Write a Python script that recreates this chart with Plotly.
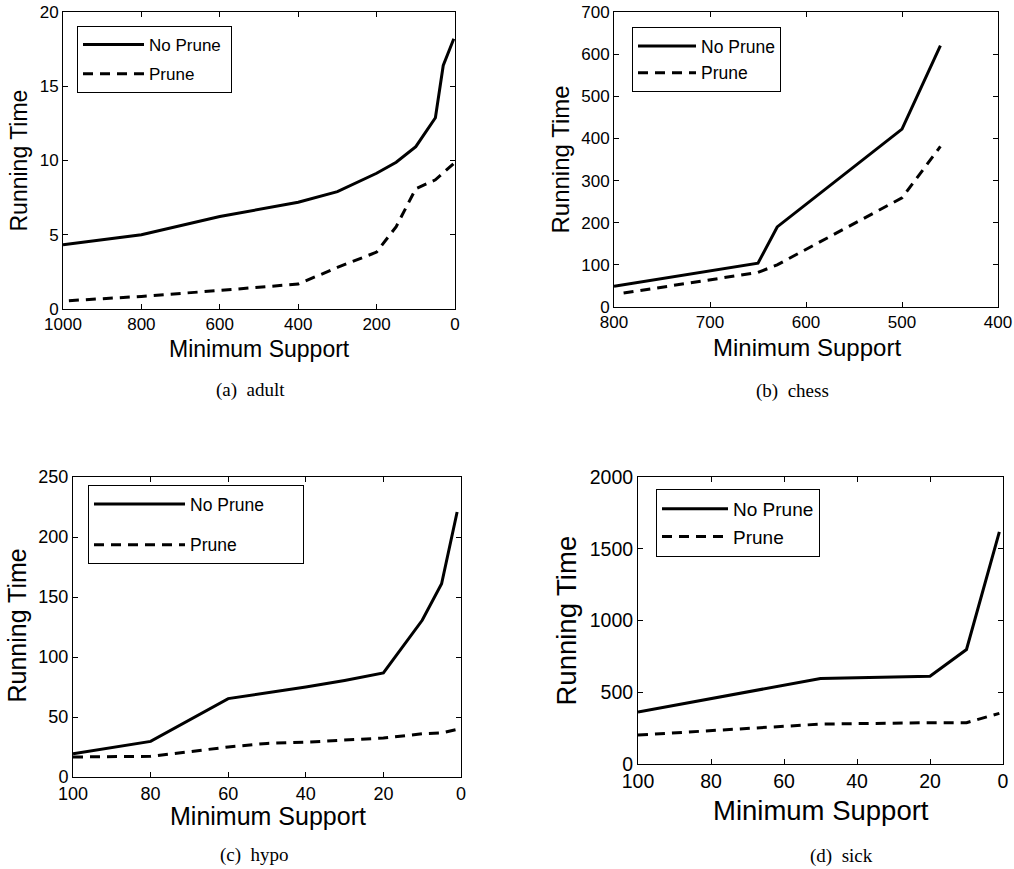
import plotly.graph_objects as go

W, H = 1014, 869

# ---------------- data ----------------
series_names = ["No Prune", "Prune"]

adult_x_noprune = [1000, 800, 600, 400, 300, 200, 150, 100, 50, 30, 3]
adult_noprune = [4.32, 5.0, 6.23, 7.19, 7.9, 9.14, 9.88, 10.93, 12.88, 16.4, 18.2]
adult_x_prune = [985, 800, 600, 400, 300, 200, 150, 100, 50, 3]
adult_prune = [0.56, 0.85, 1.25, 1.68, 2.8, 3.83, 5.55, 8.1, 8.7, 9.8]

chess_x_noprune = [800, 650, 630, 500, 460]
chess_noprune = [49, 104, 190, 422, 620]
chess_x_prune = [790, 650, 630, 500, 460]
chess_prune = [33, 82, 100, 259, 381]

hypo_x = [100, 80, 60, 50, 40, 30, 20, 10, 5, 1]
hypo_noprune = [19.4, 29.7, 65.3, 70, 75, 80.5, 86.7, 130.6, 161, 220.8]
hypo_prune = [16.7, 17.2, 25, 28, 29, 30.8, 32.5, 36, 36.7, 39.7]

sick_x = [100, 50, 20, 10, 1]
sick_noprune = [362, 596, 612, 798, 1617]
sick_prune = [202, 278, 288, 288, 353]

x_title = "Minimum Support"
y_title = "Running Time"
captions = ["(a)\u00a0\u00a0adult", "(b)\u00a0\u00a0chess", "(c)\u00a0\u00a0hypo", "(d)\u00a0\u00a0sick"]

# ---------------- layout geometry (pixels) ----------------
# (left, right, top, bottom)
boxes = [(63, 455, 12, 309), (614, 998, 12, 307), (73, 461, 477, 777), (638, 1003, 477, 764)]
xranges = [[1000, 0], [800, 400], [100, 0], [100, 0]]
yranges = [[0, 20], [0, 700], [0, 250], [0, 2000]]
xdtick = [200, 100, 20, 20]
ydtick = [5, 100, 50, 500]
tick_font = [17, 17, 18, 19.5]
title_font = [23, 24, 25, 27.5]
ytitle_pos = [(18, 160.5), (560, 159.5), (16.5, 626), (566, 620.5)]
xtitle_pos = [(259, 349), (807, 347.5), (268, 816), (821, 810)]
caption_pos = [(250, 390.5), (792, 391), (254, 854.5), (841, 855.5)]
legend_box = [(77, 26), (632, 27), (88, 485), (656, 489)]
legend_font = [17, 17.5, 17.5, 19]
legend_gap = [4, 1, 15, 0]
legend_itemwidth = [61, 58, 91, 66]
legend_pad = [1, 0, 7, 0]   # extra blank space at the right of the legend box

FONT = "Liberation Sans, Arial, Helvetica, sans-serif"
SERIF = "Liberation Serif, Times New Roman, serif"

def px(x):
    return x / W

def py(y):
    return 1 - y / H

fig = go.Figure()

datasets = [
    (adult_x_noprune, adult_noprune, adult_x_prune, adult_prune),
    (chess_x_noprune, chess_noprune, chess_x_prune, chess_prune),
    (hypo_x, hypo_noprune, hypo_x, hypo_prune),
    (sick_x, sick_noprune, sick_x, sick_prune),
]

annotations = []
layout_axes = {}
for i, (xa, ya, xb, yb) in enumerate(datasets):
    n = i + 1
    xref = "x" if n == 1 else f"x{n}"
    yref = "y" if n == 1 else f"y{n}"
    leg = "legend" if n == 1 else f"legend{n}"
    pad = "\u00a0" * legend_pad[i]
    fig.add_trace(go.Scatter(x=xa, y=ya, mode="lines", name=series_names[0] + pad,
                             line=dict(color="black", width=3),
                             xaxis=xref, yaxis=yref, legend=leg, legendgroup=f"g{n}a"))
    fig.add_trace(go.Scatter(x=xb, y=yb, mode="lines", name=series_names[1],
                             line=dict(color="black", width=3, dash="10px,7px"),
                             xaxis=xref, yaxis=yref, legend=leg, legendgroup=f"g{n}b"))
    l, r, t, b = boxes[i]
    axis_common = dict(showline=True, linecolor="black", linewidth=1, mirror="allticks",
                       ticks="inside", ticklen=5, tickwidth=1, tickcolor="black",
                       showgrid=False, zeroline=False, automargin=False,
                       ticklabeloverflow="allow",
                       tickfont=dict(family=FONT, size=tick_font[i], color="black"))
    xk = "xaxis" if n == 1 else f"xaxis{n}"
    yk = "yaxis" if n == 1 else f"yaxis{n}"
    layout_axes[xk] = dict(axis_common, domain=[px(l), px(r)], range=xranges[i],
                           dtick=xdtick[i], tick0=0, anchor=yref)
    layout_axes[yk] = dict(axis_common, domain=[py(b), py(t)], range=yranges[i],
                           dtick=ydtick[i], tick0=0, anchor=xref)
    lx, ly = legend_box[i]
    layout_axes[leg] = dict(x=px(lx), y=py(ly), xanchor="left", yanchor="top",
                            bordercolor="black", borderwidth=1, bgcolor="white",
                            font=dict(family=FONT, size=legend_font[i], color="black"),
                            itemwidth=legend_itemwidth[i],
                            tracegroupgap=legend_gap[i])
    annotations.append(dict(text=y_title, x=px(ytitle_pos[i][0]), y=py(ytitle_pos[i][1]),
                            xref="paper", yref="paper", showarrow=False, textangle=-90,
                            xanchor="center", yanchor="middle",
                            font=dict(family=FONT, size=title_font[i], color="black")))
    annotations.append(dict(text=x_title, x=px(xtitle_pos[i][0]), y=py(xtitle_pos[i][1]),
                            xref="paper", yref="paper", showarrow=False,
                            xanchor="center", yanchor="middle",
                            font=dict(family=FONT, size=title_font[i], color="black")))
    annotations.append(dict(text=captions[i], x=px(caption_pos[i][0]), y=py(caption_pos[i][1]),
                            xref="paper", yref="paper", showarrow=False,
                            xanchor="center", yanchor="middle",
                            font=dict(family=SERIF, size=19, color="black")))

fig.update_layout(width=W, height=H,
                  margin=dict(l=0, r=0, t=0, b=0, pad=0, autoexpand=False),
                  paper_bgcolor="white", plot_bgcolor="white",
                  showlegend=True, annotations=annotations, **layout_axes)

# remove the browser's default 8px page margin so the 1014x869 figure fills the window
fig.write_html("out.html",
               config={"displayModeBar": False},
               post_script="document.body.style.margin='0';document.body.style.overflow='hidden';")
